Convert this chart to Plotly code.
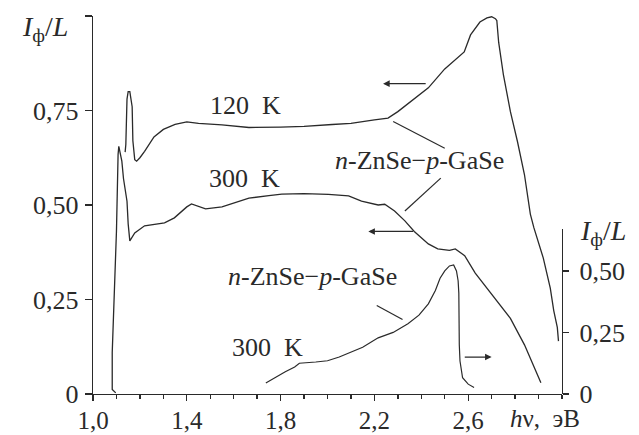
import plotly.graph_objects as go

# ---- data (photon energy, eV ; relative photocurrent) ----
x_120 = [1.137, 1.140, 1.145, 1.150, 1.157, 1.163, 1.167, 1.170, 1.178, 1.186, 1.20, 1.22, 1.26, 1.30,
         1.35, 1.40, 1.45, 1.55, 1.665, 1.80, 1.90, 2.02, 2.10, 2.20, 2.258, 2.30, 2.356, 2.43, 2.50,
         2.583, 2.61, 2.65, 2.68, 2.70, 2.716, 2.722, 2.73, 2.75, 2.78, 2.81, 2.84, 2.865, 2.88, 2.92,
         2.95, 2.965, 2.98, 2.985]
y_120 = [0.64, 0.66, 0.78, 0.80, 0.80, 0.78, 0.76, 0.67, 0.62, 0.616, 0.625, 0.642, 0.68, 0.70,
         0.713, 0.72, 0.716, 0.712, 0.705, 0.706, 0.708, 0.713, 0.716, 0.725, 0.730, 0.747, 0.775, 0.81, 0.86,
         0.905, 0.95, 0.984, 0.995, 0.998, 0.993, 0.988, 0.93, 0.845, 0.747, 0.668, 0.58, 0.476, 0.44, 0.36,
         0.28, 0.22, 0.176, 0.14]

x_300 = [1.097, 1.082, 1.082, 1.09, 1.10, 1.107, 1.11, 1.123, 1.13, 1.145, 1.15, 1.157, 1.178, 1.22,
         1.263, 1.305, 1.347, 1.40, 1.42, 1.48, 1.55, 1.665, 1.75, 1.805, 1.90, 2.004, 2.09, 2.145,
         2.216, 2.244, 2.286, 2.33, 2.37, 2.43, 2.47, 2.52, 2.545, 2.585, 2.63, 2.68, 2.73, 2.78, 2.84,
         2.88, 2.91]
y_300 = [0.003, 0.012, 0.11, 0.26, 0.43, 0.634, 0.655, 0.616, 0.57, 0.51, 0.45, 0.405, 0.426, 0.445,
         0.45, 0.453, 0.466, 0.495, 0.503, 0.49, 0.495, 0.518, 0.525, 0.529, 0.53, 0.528, 0.524, 0.51,
         0.50, 0.502, 0.484, 0.458, 0.43, 0.397, 0.384, 0.38, 0.384, 0.366, 0.32, 0.28, 0.24, 0.20, 0.13,
         0.07, 0.03]

x_r = [1.737, 1.78, 1.82, 1.86, 1.88, 1.95, 2.00, 2.05, 2.10, 2.15, 2.216, 2.28, 2.343, 2.39, 2.43,
       2.46, 2.48, 2.50, 2.52, 2.538, 2.55, 2.557, 2.56, 2.56, 2.562, 2.565, 2.576, 2.60, 2.625]
y_r = [0.045, 0.07, 0.09, 0.11, 0.125, 0.13, 0.135, 0.15, 0.17, 0.19, 0.228, 0.25, 0.285, 0.32, 0.366,
       0.42, 0.47, 0.50, 0.52, 0.524, 0.50, 0.46, 0.41, 0.30, 0.20, 0.134, 0.066, 0.04, 0.026]

x_tickvals = [1.0, 1.4, 1.8, 2.2, 2.6]
x_ticktext = ["1,0", "1,4", "1,8", "2,2", "2,6"]
yl_tickvals = [0, 0.25, 0.5, 0.75, 1.0]
yl_ticktext = ["0", "0,25", "0,50", "0,75", " "]
yr_tickvals = [0, 0.25, 0.5]
yr_ticktext = ["0", "0,25", "0,50"]

FONT = "Liberation Serif"
INK = "#2a2a2a"
FS = 26

fig = go.Figure()
fig.add_trace(go.Scatter(x=x_120, y=y_120, mode="lines", line=dict(color=INK, width=1.3),
                         xaxis="x", yaxis="y", hoverinfo="skip"))
fig.add_trace(go.Scatter(x=x_300, y=y_300, mode="lines", line=dict(color=INK, width=1.3),
                         xaxis="x", yaxis="y", hoverinfo="skip"))
fig.add_trace(go.Scatter(x=x_r, y=y_r, mode="lines", line=dict(color=INK, width=1.2),
                         xaxis="x", yaxis="y2", hoverinfo="skip"))

axis_common = dict(showgrid=False, zeroline=False, showline=True, linecolor=INK, linewidth=1.3,
                   ticks="outside", tickcolor=INK, tickwidth=1.3, automargin=False)

fig.update_layout(
    width=639, height=435,
    margin=dict(l=93, r=77, t=16, b=41),
    plot_bgcolor="rgba(0,0,0,0)", paper_bgcolor="white",
    showlegend=False,
    font=dict(family=FONT, size=FS, color=INK),
    xaxis=dict(range=[1.0, 3.0], tickvals=x_tickvals, ticktext=x_ticktext, ticklen=6,
               ticklabelstandoff=-2, tickfont=dict(family=FONT, size=25, color=INK),
               minor=dict(dtick=0.1, tick0=1.0, ticks="outside", ticklen=4, tickcolor=INK, showgrid=False),
               **axis_common),
    yaxis=dict(range=[0, 1.0], tickvals=yl_tickvals, ticktext=yl_ticktext, ticklen=7,
               ticklabelstandoff=1, tickfont=dict(family=FONT, size=FS, color=INK), **axis_common),
    yaxis2=dict(range=[0, 0.67], domain=[0, 165 / 378], anchor="x", side="right",
                tickvals=yr_tickvals, ticktext=yr_ticktext, ticklen=6, ticklabelstandoff=5,
                tickfont=dict(family=FONT, size=FS, color=INK), **axis_common),
)


def label(text, x, y, xref="x", yref="y", size=FS):
    fig.add_annotation(text=text, x=x, y=y, xref=xref, yref=yref, showarrow=False,
                       xanchor="center", yanchor="middle",
                       font=dict(family=FONT, size=size, color=INK))

label("120\u00a0\u00a0K", 1.652, 0.762)
label("300\u00a0\u00a0K", 1.648, 0.571)
label("<i>n</i>-ZnSe\u2212<i>p</i>-GaSe", 2.394, 0.619)
label("<i>n</i>-ZnSe\u2212<i>p</i>-GaSe", 1.934, 0.31)
label("300\u00a0\u00a0K", 1.742, 0.122)
label("<i>h</i>\u03bd,\u00a0\u00a0\u044d\u0412", 2.927, -0.066, yref="paper", size=25)
label("<i>I</i><sub>\u0444</sub>/<i>L</i>", -0.102, 0.966, xref="paper", yref="paper", size=28)
label("<i>I</i><sub>\u0444</sub>/<i>L</i>", 1.087, 0.426, xref="paper", yref="paper", size=28)

# arrows pointing to the relevant axis
def arrow(x_tip, y_tip, x_tail, y_tail, yref="y"):
    fig.add_annotation(x=x_tip, y=y_tip, ax=x_tail, ay=y_tail, xref="x", yref=yref,
                       axref="x", ayref=yref, text=" ", showarrow=True,
                       arrowhead=2, arrowsize=1.1, arrowwidth=1.2, arrowcolor=INK)

arrow(2.237, 0.821, 2.44, 0.821)
arrow(2.174, 0.43, 2.386, 0.43)
arrow(2.70, 0.15, 2.564, 0.15, yref="y2")

# leader lines from the labels to the curves
leaders = [(2.28, 0.721, 2.50, 0.65), (2.483, 0.571, 2.33, 0.484), (2.21, 0.234, 2.32, 0.197)]
for x0, y0, x1, y1 in leaders:
    fig.add_shape(type="line", x0=x0, y0=y0, x1=x1, y1=y1, xref="x", yref="y",
                  line=dict(color=INK, width=1.2))

fig.write_html("out.html", config={"displayModeBar": False, "staticPlot": True},
               post_script="document.body.style.margin='0';document.body.style.overflow='hidden';")
